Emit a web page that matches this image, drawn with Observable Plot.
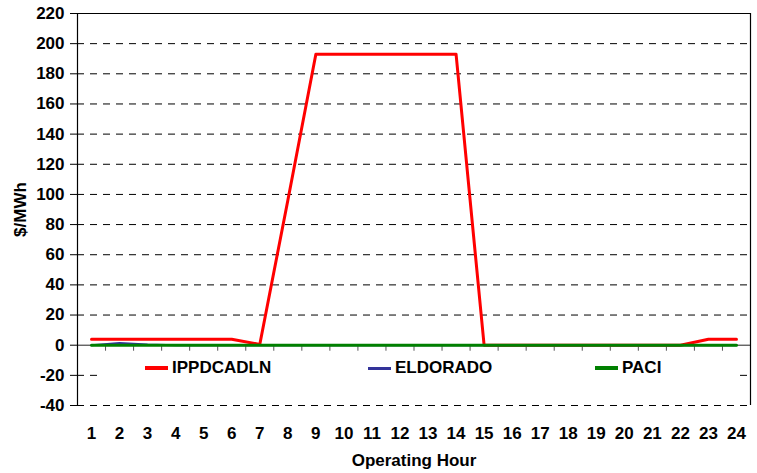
<!DOCTYPE html>
<html>
<head>
<meta charset="utf-8">
<script src="https://cdn.jsdelivr.net/npm/d3@7"></script>
<script src="https://cdn.jsdelivr.net/npm/@observablehq/plot@0.6"></script>
<style>
  body { margin: 0; background: #fff; }
  #wrap { position: relative; width: 757px; height: 473px; font-family: "Liberation Sans", Arial, sans-serif; }
  #legend { position: absolute; left: 100px; top: 354px; width: 640px; height: 42px; background: #fff; }
  .item { position: absolute; top: 4px; display: flex; align-items: center; font-weight: bold; font-size: 17px; color: #000; }
  .sw { display: inline-block; width: 23px; margin-right: 4px; }
</style>
</head>
<body>
<div id="wrap"></div>
<script>
const hours = [1,2,3,4,5,6,7,8,9,10,11,12,13,14,15,16,17,18,19,20,21,22,23,24];
const ippdcadln = [4,4,4,4,4,4,0.5,96,193,193,193,193,193,193,0,0,0,0,0,0,0,0,4,4];
const eldorado = [0,1.5,0.5,0,0,0,0,0,0,0,0,0,0,0,0,0,0,0,0,0,0,0,0,0];
const paci = [0,0,0,0,0,0,0,0,0,0,0,0,0,0,0,0,0,0,0,0,0,0,0,0];
const seriesNames = ["IPPDCADLN", "ELDORADO", "PACI"];
const seriesColors = ["#ff0000", "#333399", "#008000"];
const seriesWidths = [3, 2, 3];
const yTicks = [-40,-20,0,20,40,60,80,100,120,140,160,180,200,220];
const gridVals = [-40,-20,20,40,60,80,100,120,140,160,180,200];

const allSeries = [ippdcadln, eldorado, paci];
const rows = [];
allSeries.forEach((vals, i) => vals.forEach((v, j) => rows.push({hour: hours[j], value: v, series: seriesNames[i]})));
const bounds = hours.slice(0, -1).map(h => h + 0.5);

const chart = Plot.plot({
  width: 757,
  height: 473,
  marginLeft: 77,
  marginRight: 7,
  marginTop: 13,
  marginBottom: 68,
  style: {fontFamily: "Liberation Sans, Arial, sans-serif", fontSize: "17px", fontWeight: "bold", color: "#000", background: "#fff"},
  x: {domain: [0.5, 24.5]},
  y: {domain: [-40, 220]},
  color: {domain: seriesNames, range: seriesColors},
  marks: [
    Plot.ruleY(gridVals, {stroke: "#000", strokeDasharray: "7,6", strokeWidth: 1}),
    Plot.ruleY([0], {stroke: "#222", strokeWidth: 1}),
    Plot.ruleY([220], {stroke: "#000", strokeWidth: 1}),
    Plot.ruleX([0.5, 24.5], {stroke: "#000", strokeWidth: 1.2}),
    Plot.ruleX(bounds, {y1: 0, y2: -4, stroke: "#555", strokeWidth: 1}),
    ...seriesNames.map((s, i) => Plot.line(rows.filter(r => r.series === s), {x: "hour", y: "value", stroke: seriesColors[i], strokeWidth: seriesWidths[i]})),
    Plot.axisY({ticks: yTicks, tickFormat: d => String(d), tickSize: 7, tickPadding: 6, label: "$/MWh", labelAnchor: "center", labelArrow: false, labelOffset: 64, fontSize: 17}),
    Plot.axisX({ticks: hours, tickFormat: d => String(d), tickSize: 0, tickPadding: 21, label: "Operating Hour", labelAnchor: "center", labelArrow: false, labelOffset: 60, fontSize: 17})
  ]
});

const wrap = document.getElementById("wrap");
wrap.appendChild(chart);
const legend = document.createElement("div");
legend.id = "legend";
const legendLeft = [45, 268, 495];
seriesNames.forEach((s, i) => {
  const it = document.createElement("div");
  it.className = "item";
  it.style.left = legendLeft[i] + "px";
  const sw = document.createElement("span");
  sw.className = "sw";
  sw.style.borderTop = seriesWidths[i] + 1 + "px solid " + seriesColors[i];
  it.appendChild(sw);
  const t = document.createElement("span");
  t.textContent = s;
  it.appendChild(t);
  legend.appendChild(it);
});
wrap.appendChild(legend);
</script>
</body>
</html>
